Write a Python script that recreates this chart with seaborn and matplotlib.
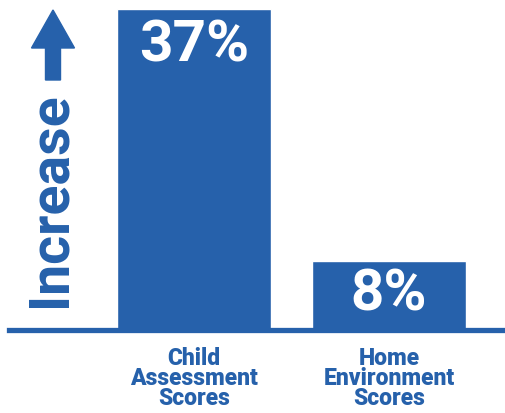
import matplotlib
matplotlib.use("Agg")
import matplotlib.pyplot as plt
import matplotlib.patches as mpatches
import seaborn as sns
import pandas as pd

# data
categories = ["Child\nAssessment\nScores", "Home\nEnvironment\nScores"]
increase = [37, 8]
labels = ["37%", "8%"]

blue = "#2661ab"

sns.set_style("white")
plt.rcParams["font.family"] = ["Roboto", "DejaVu Sans"]

df = pd.DataFrame({"cat": categories, "val": increase})

fig = plt.figure(figsize=(5.05, 4.13), dpi=100)
W, H = 505, 413
ax = fig.add_axes([9 / W, 83 / H, 1 - 9 / W, 330 / H])

sns.barplot(data=df, x="cat", y="val", color=blue, saturation=1, width=0.79, ax=ax)

ax.set_xlim(-0.949, 1.595)
ax.set_ylim(0, 38.04)

# value labels inside bars
for i, (v, lab) in enumerate(zip(increase, labels)):
    ypos = v - 4.3 if v > 20 else v / 2
    ax.text(i, ypos, lab, ha="center", va="center", color="white",
            fontsize=42, fontweight="bold")

# axis styling
for s in ["top", "right", "left"]:
    ax.spines[s].set_visible(False)
ax.spines["bottom"].set_color(blue)
ax.spines["bottom"].set_linewidth(3.8)
ax.set_yticks([])
ax.set_xlabel("")
ax.set_ylabel("")
ax.tick_params(axis="x", length=0, pad=12)
for t in ax.get_xticklabels():
    t.set_color(blue)
    t.set_fontsize(16.5)
    t.set_fontweight(900)
    t.set_linespacing(0.84)
    t.set_verticalalignment("top")

# "Increase" label with up arrow
fig.text(50 / W, 1 - 200 / H, "Increase", rotation=90, ha="center", va="center",
         color=blue, fontsize=40, fontweight="bold")
arrow = mpatches.FancyArrow(53 / W, 1 - 80 / H, 0, 70 / H, width=15 / W,
                            head_width=43 / W, head_length=38 / H,
                            length_includes_head=True, color=blue,
                            transform=fig.transFigure)
fig.patches.append(arrow)

fig.savefig("out.png", dpi=100)
